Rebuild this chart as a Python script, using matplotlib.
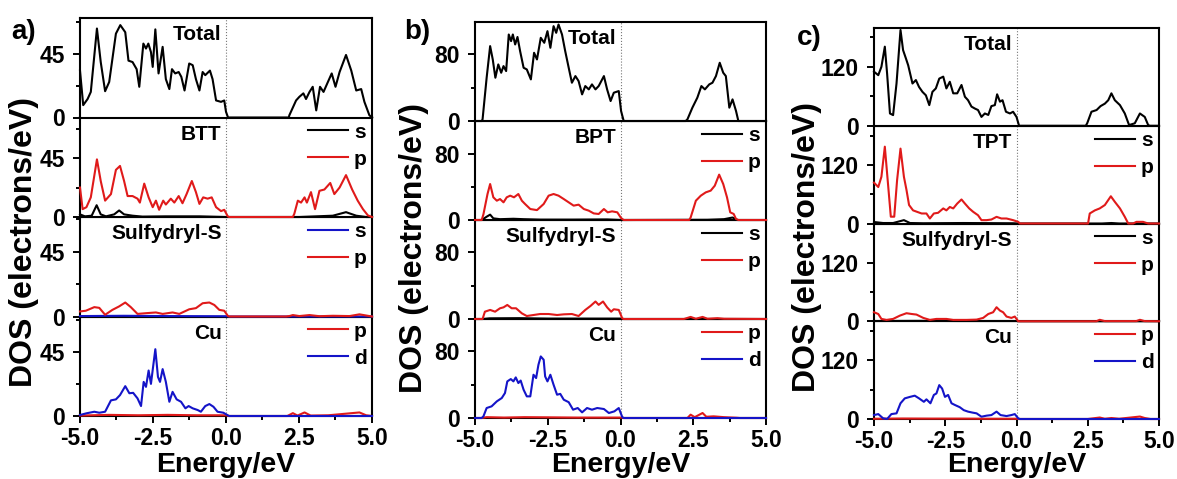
import matplotlib.pyplot as plt
from matplotlib.ticker import MultipleLocator

plt.rcParams['font.family'] = ['Liberation Sans', 'DejaVu Sans']
plt.rcParams['font.weight'] = 'bold'
plt.rcParams['axes.unicode_minus'] = False

RED = '#e01a1a'
BLUE = '#1414c8'
BLACK = 'black'

# ---------------- a) BTT ----------------
a_total_e = [-5.0, -4.89, -4.74, -4.63, -4.42, -4.29, -4.14, -4.0, -3.77, -3.62, -3.45, -3.34, -3.2, -3.06,
             -2.97, -2.83, -2.74, -2.66, -2.57, -2.51, -2.42, -2.31, -2.17, -2.06, -1.94, -1.85, -1.74,
             -1.62, -1.53, -1.42, -1.26, -1.14, -1.03, -0.91, -0.8, -0.71, -0.55, -0.46, -0.34, -0.17,
             -0.06, 0.0, 0.07, 2.15, 2.17, 2.4, 2.51, 2.65, 2.74, 2.86, 2.97, 3.09, 3.22, 3.34, 3.49, 3.62,
             3.75, 3.89, 4.11, 4.29, 4.46, 4.63, 4.74, 4.91, 5.0]
a_total = [33, 8.7, 13, 18, 62.6, 39, 18.5, 25, 59, 65, 60, 40, 39, 34,
           21.6, 52, 48.5, 52, 46, 35.6, 62, 31, 49.7, 27, 20, 34, 31,
           32, 28.6, 19, 38, 36.8, 27, 19, 32, 29.8, 33, 27, 12, 11,
           12, 4, 0, 0, 1.6, 12, 14.5, 17, 13, 18, 21.6, 5, 21.6, 18, 25, 31,
           21.6, 32, 44, 33, 19, 20, 11, 1.6, 0]

a_btt_p_e = [-5.0, -4.91, -4.78, -4.63, -4.42, -4.29, -4.14, -3.94, -3.77, -3.63, -3.49, -3.37, -3.2, -3.03,
             -2.95, -2.8, -2.65, -2.51, -2.4, -2.29, -2.15, -2.06, -1.89, -1.77, -1.62, -1.49, -1.35,
             -1.17, -1.03, -0.91, -0.78, -0.63, -0.49, -0.34, -0.17, -0.06, 0.06, 0.11, 2.29, 2.34, 2.46,
             2.57, 2.69, 2.77, 2.91, 3.05, 3.2, 3.37, 3.57, 3.71, 3.89, 4.11, 4.32, 4.51, 4.69, 4.86, 5.0]
a_btt_p = [22.5, 6, 7.5, 15, 44, 27.5, 12.5, 17.5, 36, 39, 27.5, 16, 16, 14,
           11, 25.5, 15, 7.5, 12.5, 5.5, 12.5, 9.5, 14, 11, 16, 10.5, 17.5,
           27.5, 19, 10, 15, 14, 15, 7.5, 4.5, 5.5, 0.5, 0, 0, 2.5, 12.5,
           11, 15, 11, 19, 6, 20, 21, 26, 17.5, 22.5, 32, 21, 12.5, 6, 1.2, 0]
a_btt_s_e = [-5.0, -4.83, -4.6, -4.43, -4.29, -4.11, -3.83, -3.66, -3.49, -3.2, -2.86, -2.06, -0.91, 0.0,
             2.51, 3.66, 4.11, 4.46, 4.8, 5.0]
a_btt_s = [2, 0.5, 1, 9, 2, 0.5, 2, 5, 2, 1, 0.3, 0.5, 0.5, 0, 0, 1, 3.7, 1, 0, 0]

a_sh_p_e = [-5.0, -4.8, -4.51, -4.34, -4.14, -3.89, -3.66, -3.45, -3.26, -3.03, -2.74, -2.4, -2.17, -1.83,
            -1.6, -1.26, -1.03, -0.8, -0.57, -0.4, -0.23, -0.06, 0.06, 0.11, 2.06, 2.17, 2.29, 2.51,
            2.86, 3.2, 3.66, 4.23, 4.57, 4.91, 5.0]
a_sh_p = [3.5, 4, 6.5, 6, 1.2, 4.6, 7, 9.7, 6.5, 1.8, 2.3, 2.8, 1.8, 2.8,
          1.8, 5, 5.8, 9.2, 9.7, 8, 4.6, 4, 0.5, 0, 0, 0.3, 1, 0.3,
          1, 0.2, 0.5, 0.3, 1.5, 0.3, 0]
a_sh_s_e = [-5.0, -3.5, -2.0, 0.0, 0.1, 5.0]
a_sh_s = [0.3, 0.5, 0.3, 0.2, 0, 0]

a_cu_d_e = [-5.0, -4.78, -4.51, -4.34, -4.14, -3.94, -3.77, -3.63, -3.45, -3.31, -3.18, -3.03, -2.91, -2.82,
            -2.74, -2.65, -2.57, -2.49, -2.42, -2.33, -2.26, -2.17, -2.06, -1.94, -1.83, -1.69, -1.54,
            -1.39, -1.28, -1.14, -0.97, -0.86, -0.71, -0.57, -0.43, -0.29, -0.09, 0.06, 0.11, 5.0]
a_cu_d = [0.7, 1.9, 3, 2.3, 3, 11, 11.7, 14.7, 21, 16, 16.3, 12.4, 7, 24,
          20.5, 32, 22.6, 35.7, 47, 27.5, 24, 33, 24, 10, 17, 11.7, 10,
          5.4, 7, 5.4, 4.2, 3, 7, 8.4, 6.5, 3, 2.3, 0.5, 0, 0]
a_cu_p_e = [-5.0, -4.0, -3.0, -2.0, -1.0, 0.0, 0.1, 2.1, 2.29, 2.45, 2.69, 2.9, 3.5, 4.57, 4.8, 5.0]
a_cu_p = [0.3, 0.8, 0.5, 0.8, 0.5, 0.5, 0, 0, 2, 0.3, 2.5, 0.3, 0.5, 2.5, 0.5, 0]

# ---------------- b) BPT ----------------
b_total_e = [-5.0, -4.77, -4.74, -4.6, -4.48, -4.39, -4.3, -4.2, -4.1, -4.02, -3.93, -3.84, -3.76, -3.7,
             -3.62, -3.54, -3.45, -3.33, -3.22, -3.08, -2.97, -2.87, -2.74, -2.62, -2.51, -2.41, -2.3,
             -2.21, -2.13, -2.01, -1.9, -1.78, -1.67, -1.55, -1.44, -1.32, -1.21, -1.09, -0.98, -0.86,
             -0.75, -0.57, -0.46, -0.34, -0.23, -0.06, 0.02, 0.11, 2.24, 2.3, 2.47, 2.64, 2.78, 2.9,
             3.05, 3.16, 3.28, 3.41, 3.53, 3.62, 3.74, 3.85, 3.97, 4.05, 5.0]
b_total = [0, 0, 2, 52, 90, 74, 52, 68, 58, 66, 60, 104, 96, 104,
           92, 101, 84, 64, 62, 50, 82, 74, 100, 94, 108, 88, 114,
           106, 116, 104, 84, 64, 46, 54, 48, 32, 42, 38, 44, 38,
           42, 54, 38, 24, 34, 36, 12, 0, 0, 2, 16, 28, 42, 38,
           44, 46, 54, 70, 58, 54, 16, 26, 12, 0, 0]

b_bpt_p_e = [-5.0, -4.77, -4.71, -4.57, -4.48, -4.37, -4.25, -4.14, -4.02, -3.91, -3.79, -3.66, -3.51, -3.39,
             -3.28, -3.1, -2.87, -2.64, -2.47, -2.3, -2.13, -1.95, -1.78, -1.61, -1.44, -1.26, -1.09,
             -0.92, -0.75, -0.57, -0.44, -0.29, -0.11, 0.02, 0.11, 2.36, 2.41, 2.59, 2.76, 2.93, 3.1,
             3.24, 3.39, 3.53, 3.66, 3.77, 3.89, 3.97, 4.05, 5.0]
b_bpt_p = [0, 0, 7, 31.5, 43.6, 27.5, 23.4, 25.4, 21.4, 27.5, 29.5, 27.5, 31.5, 23.4,
           19.4, 13.3, 12, 19.4, 29.5, 31.5, 29.5, 25.4, 21.4, 17.4, 18.6, 13.3, 11.3,
           8, 7.3, 13.3, 9.3, 10.5, 9.3, 2.4, 0, 0, 3, 23.4, 29.5, 33.5, 35.6,
           41.6, 55, 43.6, 27.5, 9.3, 7.3, 1.2, 0, 0]
b_bpt_s_e = [-5.0, -4.77, -4.6, -4.48, -4.37, -4.14, -3.68, -3.33, -2.76, -1.61, -0.46, 0.06, 2.99, 3.56,
             3.85, 4.02, 5.0]
b_bpt_s = [0, 0, 4, 6.5, 2, 1, 1.5, 1, 0.5, 0.5, 0.7, 0, 0.3, 1, 3, 0, 0]

b_sh_p_e = [-5.0, -4.74, -4.66, -4.48, -4.31, -4.14, -4.02, -3.89, -3.74, -3.59, -3.39, -3.22, -2.99, -2.76,
            -2.47, -2.18, -1.95, -1.67, -1.44, -1.21, -1.03, -0.86, -0.75, -0.6, -0.46, -0.32, -0.23,
            -0.06, 0.06, 0.11, 2.18, 2.41, 2.59, 2.82, 2.99, 3.33, 3.56, 5.0]
b_sh_p = [0, 0, 8.8, 10.9, 8.8, 12.9, 14, 16.9, 12.9, 12.9, 6.8, 3.6, 4.8, 6,
          6, 4.8, 5.6, 6, 3.6, 10.9, 15.7, 21, 17, 21, 14, 8.8, 11.7,
          10.9, 0.8, 0, 0, 2.5, 0.3, 2.5, 0.3, 1, 0.3, 0]
b_sh_s_e = [-5.0, -4.74, -4.5, -3.5, -2.5, -1.5, 0.0, 0.1, 5.0]
b_sh_s = [0, 0, 0.8, 1, 0.5, 0.5, 0.5, 0, 0]

b_cu_d_e = [-5.0, -4.77, -4.71, -4.6, -4.43, -4.25, -4.08, -3.97, -3.89, -3.77, -3.68, -3.6, -3.51, -3.43,
            -3.33, -3.22, -3.1, -2.99, -2.9, -2.82, -2.74, -2.64, -2.59, -2.51, -2.41, -2.3, -2.18,
            -2.07, -1.95, -1.78, -1.63, -1.47, -1.32, -1.15, -0.98, -0.8, -0.57, -0.4, -0.21, -0.06,
            0.06, 0.11, 5.0]
b_cu_d = [0, 0, 2, 12, 14, 20, 24, 30, 44, 46.8, 44, 48.8, 42, 45,
          34, 26, 26, 52, 48, 64, 74, 70, 50, 44, 52, 40, 28,
          29, 22, 19, 10, 12, 6.8, 12, 10, 12, 10.8, 6, 8, 12,
          1.2, 0, 0]
b_cu_p_e = [-5.0, -4.77, -4.6, -4.0, -3.3, -2.5, -1.5, -0.5, 0.05, 0.1, 2.3, 2.41, 2.55, 2.82, 2.95, 3.2,
            3.56, 4.0, 4.1, 5.0]
b_cu_p = [0, 0, 1, 0.5, 1, 0.8, 0.5, 0.5, 0.5, 0, 0, 4, 1, 6, 1.5, 2, 1, 0.3, 0, 0]

# ---------------- c) TPT ----------------
c_total_e = [-5.0, -4.85, -4.74, -4.62, -4.54, -4.44, -4.33, -4.21, -4.07, -3.98, -3.88, -3.8, -3.65, -3.53,
             -3.42, -3.3, -3.18, -3.06, -2.95, -2.83, -2.71, -2.57, -2.46, -2.34, -2.22, -2.08, -1.93,
             -1.81, -1.7, -1.58, -1.46, -1.35, -1.23, -1.11, -0.99, -0.88, -0.76, -0.68, -0.58, -0.49,
             -0.37, -0.23, -0.12, 0.0, 0.09, 2.43, 2.48, 2.63, 2.81, 2.95, 3.1, 3.22, 3.33, 3.45, 3.63,
             3.8, 3.95, 4.15, 4.33, 4.5, 4.62, 4.68, 5.0]
c_total = [110, 103, 120, 161, 106, 25, 21.7, 86, 195, 154, 137, 123, 86, 93,
           79, 69, 62, 42, 69, 76, 96, 100, 76, 89.5, 66, 66, 83,
           59, 52, 39, 35, 32, 18, 25, 22, 40, 42, 64, 49, 52,
           28.5, 25, 28.5, 18, 0, 0, 5, 28.5, 32, 40, 45, 52, 66, 52, 42,
           25, 1.4, 5, 25, 18, 1.4, 0, 0]

c_tpt_p_e = [-5.0, -4.85, -4.74, -4.62, -4.53, -4.41, -4.29, -4.19, -4.07, -3.95, -3.86, -3.77, -3.63, -3.49,
             -3.33, -3.16, -3.04, -2.9, -2.75, -2.57, -2.46, -2.34, -2.22, -2.08, -1.93, -1.81, -1.66,
             -1.52, -1.35, -1.23, -1.05, -0.88, -0.7, -0.53, -0.35, -0.12, 0.06, 0.12, 2.51, 2.57, 2.75,
             2.92, 3.1, 3.31, 3.45, 3.63, 3.8, 3.92, 4.09, 4.21, 4.44, 4.62, 5.0]
c_tpt_p = [84, 75, 96, 158, 96, 14, 14, 89, 154, 96, 69, 38, 27, 24,
           20.6, 20.6, 10.3, 20.6, 22, 31, 27, 34, 31, 41, 49.4, 41, 31,
           24, 17, 6.9, 6.9, 8.2, 13.7, 10.3, 10.3, 6.9, 3.4, 0, 0, 20.6, 27,
           31, 38, 56, 44.6, 31, 13.7, 0, 0, 3.4, 3.4, 0, 0]
c_tpt_s_e = [-5.0, -4.68, -4.33, -3.95, -3.74, -3.27, -1.87, -0.12, 0.1, 3.0, 3.33, 3.6, 5.0]
c_tpt_s = [3, 1, 1, 6.9, 1, 0.5, 1, 0.5, 0, 0, 1, 0, 0]

c_sh_p_e = [-5.0, -4.85, -4.74, -4.56, -4.33, -4.09, -3.86, -3.68, -3.51, -3.27, -3.04, -2.81, -2.46, -2.22,
            -1.75, -1.4, -1.17, -0.99, -0.82, -0.7, -0.58, -0.47, -0.35, -0.18, -0.06, 0.06, 2.8, 2.92,
            3.1, 4.2, 4.33, 4.5, 5.0]
c_sh_p = [18.6, 15, 4.8, 2.8, 4.8, 11.7, 16.6, 15, 13.8, 6.9, 2.8, 4.8, 4.8, 2.8,
          2.8, 3.4, 6.9, 15, 18.6, 29, 22, 18.6, 9.7, 6.9, 9.7, 0, 0, 3,
          0.3, 0.3, 3, 0.3, 0]
c_sh_s_e = [-5.0, -3.5, -2.0, 0.0, 0.1, 5.0]
c_sh_s = [0.5, 0.8, 0.5, 0.5, 0, 0]

c_cu_d_e = [-5.0, -4.85, -4.68, -4.54, -4.39, -4.21, -4.07, -3.92, -3.74, -3.57, -3.42, -3.25, -3.16, -3.02,
            -2.9, -2.81, -2.71, -2.61, -2.51, -2.4, -2.28, -2.16, -1.99, -1.85, -1.7, -1.54, -1.4,
            -1.23, -1.05, -0.88, -0.7, -0.56, -0.35, -0.18, -0.06, 0.06, 0.12, 5.0]
c_cu_d = [8, 10, 1.4, 0, 10, 11.5, 32, 42, 45, 47.5, 42, 35, 40, 32,
          49, 52, 69, 62, 45, 49, 32, 28.5, 24, 18, 15, 13, 11.5,
          4.7, 6.8, 8, 15, 8, 6, 8, 10, 1.4, 0, 0]
c_cu_p_e = [-5.0, -4.0, -3.0, -2.0, -1.0, 0.0, 0.1, 2.5, 2.92, 3.1, 3.33, 3.6, 4.33, 4.5, 4.7, 5.0]
c_cu_p = [0.5, 1, 0.8, 0.8, 0.5, 0.5, 0, 0, 3, 0.5, 2, 0.5, 5, 2, 0, 0]

# panel layout in pixels: left, right, top, bottom; y tick step; y max of each row
panels = [
    dict(tag='a)', box=(80, 372, 18, 416), step=45, ymax=[70, 76, 69, 70],
         tag_xy=(11, 32), ylab_xy=(24, 242),
         rows=[('Total', [(a_total_e, a_total, BLACK, None)]),
               ('BTT', [(a_btt_s_e, a_btt_s, BLACK, 's'), (a_btt_p_e, a_btt_p, RED, 'p')]),
               ('Sulfydryl-S', [(a_sh_s_e, a_sh_s, BLUE, 's'), (a_sh_p_e, a_sh_p, RED, 'p')]),
               ('Cu', [(a_cu_p_e, a_cu_p, RED, 'p'), (a_cu_d_e, a_cu_d, BLUE, 'd')])]),
    dict(tag='b)', box=(475, 766, 22, 418), step=80, ymax=[119, 120, 119, 119],
         tag_xy=(404, 32), ylab_xy=(414, 248),
         rows=[('Total', [(b_total_e, b_total, BLACK, None)]),
               ('BPT', [(b_bpt_s_e, b_bpt_s, BLACK, 's'), (b_bpt_p_e, b_bpt_p, RED, 'p')]),
               ('Sulfydryl-S', [(b_sh_s_e, b_sh_s, BLACK, 's'), (b_sh_p_e, b_sh_p, RED, 'p')]),
               ('Cu', [(b_cu_p_e, b_cu_p, RED, 'p'), (b_cu_d_e, b_cu_d, BLUE, 'd')])]),
    dict(tag='c)', box=(874, 1159, 28, 419), step=120, ymax=[199, 201, 202, 199],
         tag_xy=(797, 38), ylab_xy=(807, 247),
         rows=[('Total', [(c_total_e, c_total, BLACK, None)]),
               ('TPT', [(c_tpt_s_e, c_tpt_s, BLACK, 's'), (c_tpt_p_e, c_tpt_p, RED, 'p')]),
               ('Sulfydryl-S', [(c_sh_s_e, c_sh_s, BLACK, 's'), (c_sh_p_e, c_sh_p, RED, 'p')]),
               ('Cu', [(c_cu_p_e, c_cu_p, RED, 'p'), (c_cu_d_e, c_cu_d, BLUE, 'd')])]),
]

W, H = 1177, 479
fig = plt.figure(figsize=(W / 100, H / 100), dpi=100)

for p in panels:
    left, right, top, bottom = p['box']
    rh = (bottom - top) / 4
    for i, (name, curves) in enumerate(p['rows']):
        y_top = top + i * rh
        ax = fig.add_axes([left / W, 1 - (y_top + rh) / H, (right - left) / W, rh / H])
        # upper rows drawn last so their curves sit on top of the shared border
        ax.set_zorder(10 - i)
        for e, v, col, lab in curves:
            ax.plot(e, v, color=col, lw=1.5, label=lab, zorder=3, clip_on=False)
        ax.axvline(0, color='#777777', lw=0.8, ls=':', zorder=0)
        ax.set_xlim(-5, 5)
        ax.set_ylim(0, p['ymax'][i])
        ax.xaxis.set_major_locator(MultipleLocator(2.5))
        ax.xaxis.set_minor_locator(MultipleLocator(1.25))
        ax.yaxis.set_major_locator(MultipleLocator(p['step']))
        ax.yaxis.set_minor_locator(MultipleLocator(p['step'] / 2))
        ax.xaxis.set_major_formatter('{x:.1f}')
        for s in ax.spines.values():
            s.set_linewidth(1.5)
        ax.tick_params(which='both', direction='out', width=1.4, labelsize=16.5)
        ax.tick_params(which='major', length=5)
        ax.tick_params(which='minor', length=3)
        ax.tick_params(axis='y', pad=6)
        ax.tick_params(axis='x', pad=3)
        for t in ax.get_xticklabels() + ax.get_yticklabels():
            t.set_fontweight('bold')
        if i < 3:
            ax.tick_params(axis='x', which='both', bottom=False, labelbottom=False)
        ax.text(-0.15, 0.83, name, transform=ax.get_xaxis_transform(), ha='right', va='center',
                fontsize=15, fontweight='bold')
        if i > 0:
            ax.legend(loc='upper right', frameon=False, prop={'size': 15, 'weight': 'bold'},
                      handlelength=1.9, handletextpad=0.3, labelspacing=0.38,
                      borderpad=0.0, borderaxespad=0.25)
    fig.text(p['tag_xy'][0] / W, 1 - p['tag_xy'][1] / H, p['tag'], fontsize=20, fontweight='bold',
             ha='left', va='center')
    fig.text(p['ylab_xy'][0] / W, 1 - p['ylab_xy'][1] / H, 'DOS (electrons/eV)', rotation=90,
             fontsize=23, fontweight='bold', ha='center', va='center')
    fig.text((left + right) / 2 / W, 1 - 472 / H, 'Energy/eV', fontsize=20.5, fontweight='bold',
             ha='center', va='baseline')

fig.savefig('out.png', dpi=100)
